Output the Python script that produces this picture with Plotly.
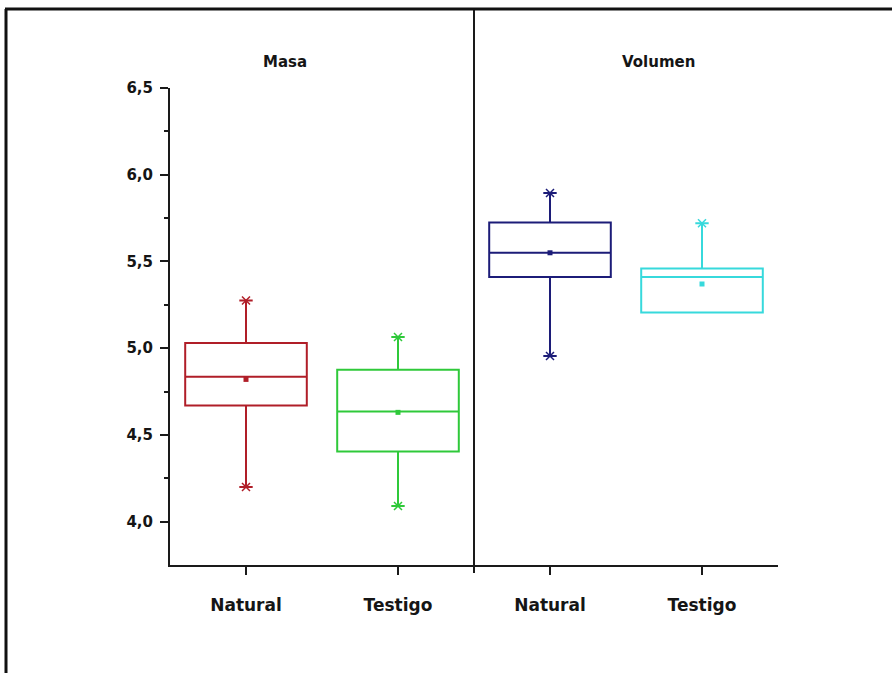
import plotly.graph_objects as go

# Box-plot summaries for each group (Masa / Volumen, Natural / Testigo)
groups = ["Natural", "Testigo", "Natural", "Testigo"]
panels = ["Masa", "Volumen"]
lower_fence = [4.20, 4.09, 4.955, 5.205]
q1 = [4.67, 4.405, 5.41, 5.205]
median = [4.835, 4.635, 5.55, 5.41]
q3 = [5.03, 4.875, 5.725, 5.46]
upper_fence = [5.275, 5.065, 5.895, 5.72]
means = [4.82, 4.63, 5.55, 5.37]
colors = ["#B01E28", "#2FC93A", "#1C1C78", "#37D9DC"]
y_ticks = [4.0, 4.5, 5.0, 5.5, 6.0, 6.5]
y_tick_text = ["4,0", "4,5", "5,0", "5,5", "6,0", "6,5"]
y_minor = [4.25, 4.75, 5.25, 5.75, 6.25]

W, H = 892, 673
L, R, T, B = 170, 114, 88, 108

xpos = list(range(len(groups)))
fig = go.Figure()

for i, x in enumerate(xpos):
    c = colors[i]
    fig.add_trace(go.Box(
        x=[x], q1=[q1[i]], median=[median[i]], q3=[q3[i]],
        lowerfence=[lower_fence[i]], upperfence=[upper_fence[i]],
        width=0.8, whiskerwidth=0.11,
        fillcolor="rgba(0,0,0,0)", line=dict(color=c, width=2),
        boxpoints=False, hoverinfo="skip", showlegend=False,
    ))
    # mean marker
    fig.add_trace(go.Scatter(
        x=[x], y=[means[i]], mode="markers",
        marker=dict(symbol="square", size=5, color=c),
        hoverinfo="skip", showlegend=False,
    ))
    # cross marks at the whisker ends
    ends = []
    if upper_fence[i] > q3[i]:
        ends.append(upper_fence[i])
    if lower_fence[i] < q1[i]:
        ends.append(lower_fence[i])
    fig.add_trace(go.Scatter(
        x=[x] * len(ends), y=ends, mode="markers",
        marker=dict(symbol="x-thin", size=8, color=c, line=dict(color=c, width=1.5)),
        hoverinfo="skip", showlegend=False,
    ))

fig.update_layout(
    width=W, height=H,
    margin=dict(l=L, r=R, t=T, b=B),
    paper_bgcolor="white", plot_bgcolor="white",
    xaxis=dict(
        range=[-0.5, 3.5], tickvals=xpos, ticktext=["<b>%s</b>" % g for g in groups],
        showgrid=False, zeroline=False, showline=True, linecolor="#1a1a1a", linewidth=2,
        ticks="outside", ticklen=8, tickwidth=2, tickcolor="#1a1a1a",
        tickfont=dict(family="DejaVu Sans", size=17, color="#151515"),
        ticklabelstandoff=16,
    ),
    yaxis=dict(
        range=[3.75, 6.5], tickvals=y_ticks, ticktext=["<b>%s</b>" % t for t in y_tick_text],
        showgrid=False, zeroline=False, showline=True, linecolor="#1a1a1a", linewidth=2,
        ticks="outside", ticklen=8, tickwidth=2, tickcolor="#1a1a1a",
        minor=dict(tickvals=y_minor, ticks="outside", ticklen=4, tickwidth=2, tickcolor="#1a1a1a"),
        tickfont=dict(family="DejaVu Sans", size=15, color="#151515"), ticklabelstandoff=4,
    ),
)

pw, ph = W - L - R, H - T - B


def px_x(p):
    return (p - L) / pw


def px_y(p):
    return (H - B - p) / ph


# panel titles
for name, xp in zip(panels, [285, 658]):
    fig.add_annotation(
        x=px_x(xp), y=px_y(62), xref="paper", yref="paper",
        text="<b>%s</b>" % name, showarrow=False,
        font=dict(family="DejaVu Sans", size=15, color="#151515"),
        xanchor="center", yanchor="middle",
    )

# divider between the two panels
fig.add_shape(type="line", xref="x", yref="paper",
              x0=1.5, x1=1.5, y0=px_y(573), y1=px_y(9),
              line=dict(color="#1a1a1a", width=2))
# outer frame (top and left edges)
fig.add_shape(type="line", xref="paper", yref="paper",
              x0=px_x(5), x1=px_x(892), y0=px_y(9), y1=px_y(9),
              line=dict(color="#111111", width=3))
fig.add_shape(type="line", xref="paper", yref="paper",
              x0=px_x(6), x1=px_x(6), y0=px_y(9), y1=px_y(673),
              line=dict(color="#111111", width=3))

fig.write_html("out.html")
